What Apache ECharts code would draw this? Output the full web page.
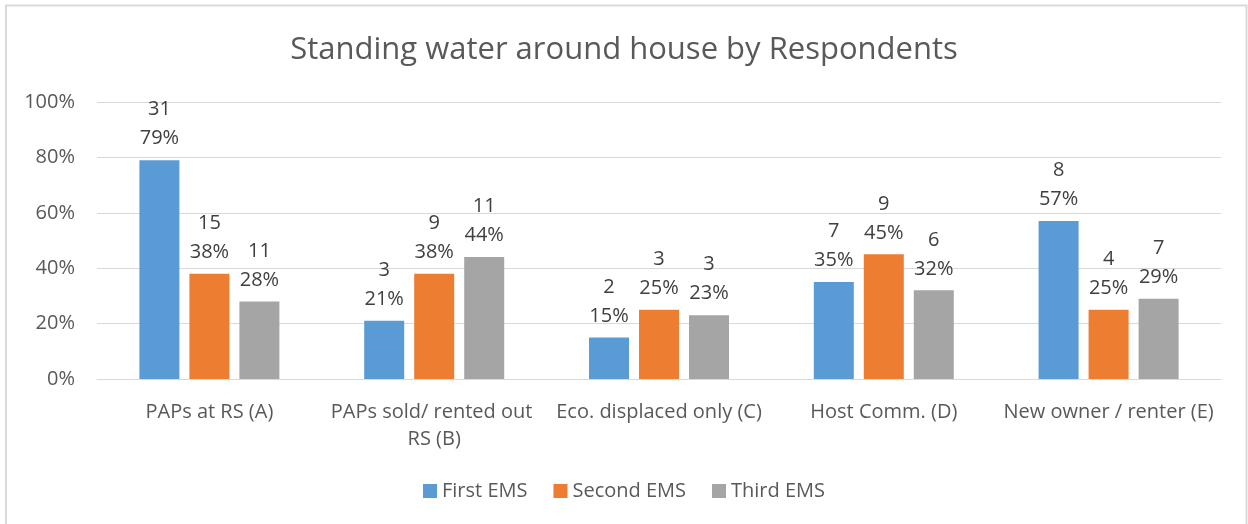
<!DOCTYPE html>
<html>
<head>
<meta charset="utf-8">
<script src="https://cdn.jsdelivr.net/npm/echarts@6/dist/echarts.min.js"></script>
<style>
html,body{margin:0;padding:0;background:#fff;}
#c{width:1248px;height:524px;}
</style>
</head>
<body>
<div id="c"></div>
<script>
const categories = ['PAPs at RS (A)', 'PAPs sold/ rented out RS (B)', 'Eco. displaced only (C)', 'Host Comm. (D)', 'New owner / renter (E)'];
const seriesNames = ['First EMS', 'Second EMS', 'Third EMS'];
const firstPct = [79, 21, 15, 35, 57];
const secondPct = [38, 38, 25, 45, 25];
const thirdPct = [28, 44, 23, 32, 29];
const firstCount = [31, 3, 2, 7, 8];
const secondCount = [15, 9, 3, 9, 4];
const thirdCount = [11, 11, 3, 6, 7];
const yTicks = [0, 20, 40, 60, 80, 100];

const colors = ['#5B9BD5', '#ED7D31', '#A5A5A5'];
const pcts = [firstPct, secondPct, thirdPct];
const counts = [firstCount, secondCount, thirdCount];
const FONT = '"Open Sans", "Noto Sans", sans-serif';
const TXT = '#595959';

const chart = echarts.init(document.getElementById('c'), null, {renderer: 'canvas'});
const series = seriesNames.map((name, s) => ({
  name: name,
  type: 'bar',
  data: pcts[s],
  barWidth: 40,
  barGap: '25%',
  itemStyle: {color: colors[s]},
  label: {
    show: true,
    position: 'top',
    distance: 7,
    color: '#404040',
    fontFamily: FONT,
    fontSize: 20,
    lineHeight: 29,
    formatter: p => counts[s][p.dataIndex] + '\n' + p.value + '%'
  }
}));

chart.setOption({
  animation: false,
  textStyle: {fontFamily: FONT},
  title: {
    text: 'Standing water around house by Respondents',
    left: 'center',
    top: 30,
    textStyle: {fontFamily: FONT, fontSize: 31, fontWeight: 'normal', color: TXT}
  },
  legend: {
    data: seriesNames,
    bottom: 18,
    left: 'center',
    itemWidth: 14,
    itemHeight: 14,
    itemGap: 26,
    icon: 'rect',
    textStyle: {fontFamily: FONT, fontSize: 20, color: TXT}
  },
  grid: {left: 97, right: 27, top: 102, bottom: 145, containLabel: false},
  xAxis: {
    type: 'category',
    data: categories,
    axisLine: {lineStyle: {color: '#D9D9D9', width: 1}},
    axisTick: {show: false},
    axisLabel: {
      color: TXT, fontFamily: FONT, fontSize: 20, margin: 20,
      width: 218, overflow: 'break', lineHeight: 27, interval: 0
    }
  },
  yAxis: {
    type: 'value',
    min: 0, max: 100, interval: 20,
    axisLine: {show: false},
    axisTick: {show: false},
    splitLine: {lineStyle: {color: '#D9D9D9', width: 1}},
    axisLabel: {
      color: TXT, fontFamily: FONT, fontSize: 20, margin: 22,
      formatter: v => yTicks.includes(v) ? v + '%' : ''
    }
  },
  graphic: [
    {type: 'polyline', shape: {points: [[6, 524], [6, 5.5], [1246.5, 5.5], [1246.5, 524]]},
     style: {stroke: '#D9D9D9', fill: null, lineWidth: 2}, silent: true}
  ],
  series: series
});
</script>
</body>
</html>
